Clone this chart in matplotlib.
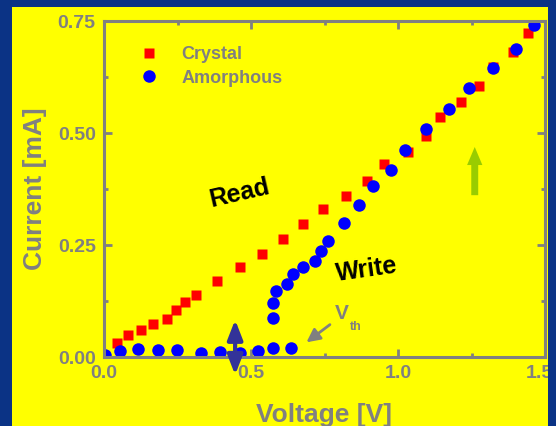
import matplotlib
matplotlib.use("Agg")
import matplotlib.pyplot as plt
from matplotlib.patches import Rectangle
from matplotlib.ticker import MultipleLocator
from matplotlib.transforms import ScaledTranslation

plt.rcParams["font.family"] = ["Liberation Sans", "DejaVu Sans"]
plt.rcParams["font.weight"] = "bold"

# ── Data ─────────────────────────────────────────────────────────────────────
crystal_v = [0.045, 0.080, 0.126, 0.167, 0.213, 0.244, 0.274, 0.314, 0.386,
             0.462, 0.537, 0.610, 0.678, 0.746, 0.822, 0.895, 0.953, 1.035,
             1.094, 1.144, 1.214, 1.275, 1.324, 1.392, 1.443]
crystal_i = [0.031, 0.048, 0.060, 0.074, 0.085, 0.104, 0.123, 0.138, 0.170,
             0.200, 0.231, 0.263, 0.297, 0.330, 0.359, 0.392, 0.430, 0.457,
             0.493, 0.536, 0.569, 0.606, 0.648, 0.680, 0.723]

amorph_v = [0.005, 0.053, 0.115, 0.184, 0.248, 0.331, 0.393, 0.462, 0.524,
            0.576, 0.637, 0.575, 0.575, 0.585, 0.621, 0.644, 0.678, 0.717,
            0.738, 0.762, 0.815, 0.867, 0.915, 0.977, 1.024, 1.094, 1.174,
            1.243, 1.323, 1.402, 1.463]
amorph_i = [0.004, 0.013, 0.017, 0.015, 0.016, 0.010, 0.011, 0.010, 0.013,
            0.019, 0.021, 0.087, 0.120, 0.148, 0.163, 0.185, 0.202, 0.215,
            0.237, 0.259, 0.300, 0.339, 0.382, 0.418, 0.462, 0.510, 0.553,
            0.601, 0.645, 0.688, 0.742]

x_ticks = [0.0, 0.5, 1.0, 1.5]
y_ticks = [0.00, 0.25, 0.50, 0.75]

GRAY = "#808080"
YELLOW = "#ffff00"
NAVY = "#0b3385"

# ── Figure ───────────────────────────────────────────────────────────────────
fig = plt.figure(figsize=(5.56, 4.26), dpi=100, facecolor=NAVY)
fig.patches.append(Rectangle((12 / 556, 0), 536 / 556, 419 / 426,
                             transform=fig.transFigure, facecolor=YELLOW,
                             edgecolor="none", zorder=-5))
# right-hand navy strip sits on top, clipping the last tick label like the original
fig.patches.append(Rectangle((548 / 556, 0), 8 / 556, 1,
                             transform=fig.transFigure, facecolor=NAVY,
                             edgecolor="none", zorder=10))

ax = fig.add_axes([104 / 556, 1 - 357 / 426, 441 / 556, 336 / 426])
ax.set_facecolor(YELLOW)

ax.plot(crystal_v, crystal_i, ls="none", marker="s", ms=7.5, color="red",
        mec="none", label="Crystal")
ax.plot(amorph_v, amorph_i, ls="none", marker="o", ms=9, color="blue",
        mec="none", label="Amorphous")

ax.set_xlim(0, 1.5)
ax.set_ylim(0, 0.75)
ax.set_xticks(x_ticks)
ax.set_xticklabels([f"{v:.1f}" for v in x_ticks])
ax.set_yticks(y_ticks)
ax.set_yticklabels([f"{v:.2f}" for v in y_ticks])
ax.xaxis.set_minor_locator(MultipleLocator(0.25))
ax.yaxis.set_minor_locator(MultipleLocator(0.125))

for s in ax.spines.values():
    s.set_color(GRAY)
    s.set_linewidth(2.2)
ax.tick_params(which="both", direction="in", color=GRAY, width=2,
               top=True, right=True, labelcolor=GRAY, labelsize=14)
ax.tick_params(which="major", length=6, pad=6)
ax.tick_params(which="minor", length=3)

# nudge the last x label left a little so more of it shows before the edge
last = ax.get_xticklabels()[-1]
last.set_transform(last.get_transform() + ScaledTranslation(-6 / 100, 0, fig.dpi_scale_trans))

ax.set_xlabel("Voltage [V]", color=GRAY, fontsize=19, fontweight="bold",
              labelpad=15)
ax.set_ylabel("Current [mA]", color=GRAY, fontsize=19, fontweight="bold",
              labelpad=8)

leg = ax.legend(loc="upper left", bbox_to_anchor=(0.082, 0.925), frameon=False,
                fontsize=13, handlelength=1.0, handletextpad=1.3,
                labelspacing=0.35, borderpad=0, borderaxespad=0)
for t in leg.get_texts():
    t.set_color(GRAY)
    t.set_fontweight("bold")

# annotations
ax.text(0.461, 0.365, "Read", rotation=13, ha="center", va="center",
        fontsize=18, fontweight="bold", color="black")
ax.text(0.895, 0.194, "Write", rotation=8, ha="center", va="center",
        fontsize=18, fontweight="bold", color="black")
ax.text(0.81, 0.098, "V", ha="center", va="center", fontsize=15,
        fontweight="bold", color=GRAY)
ax.text(0.856, 0.068, "th", ha="center", va="center", fontsize=9,
        fontweight="bold", color=GRAY)
ax.annotate("", xy=(0.681, 0.029), xytext=(0.776, 0.076),
            arrowprops=dict(arrowstyle="-|>,head_length=0.5,head_width=0.25",
                            color=GRAY, lw=2, mutation_scale=16))
ax.annotate("", xy=(0.446, 0.083), xytext=(0.446, -0.040),
            arrowprops=dict(arrowstyle="<|-|>,head_length=0.9,head_width=0.35",
                            color="#333399", lw=3, mutation_scale=13,
                            shrinkA=0, shrinkB=0),
            annotation_clip=False)
ax.annotate("", xy=(1.261, 0.475), xytext=(1.261, 0.355),
            arrowprops=dict(arrowstyle="simple,head_length=1.3,head_width=1.1,tail_width=0.5",
                            color="#99cc00", lw=0, mutation_scale=10))

fig.savefig("out.png", dpi=100, facecolor=NAVY)
